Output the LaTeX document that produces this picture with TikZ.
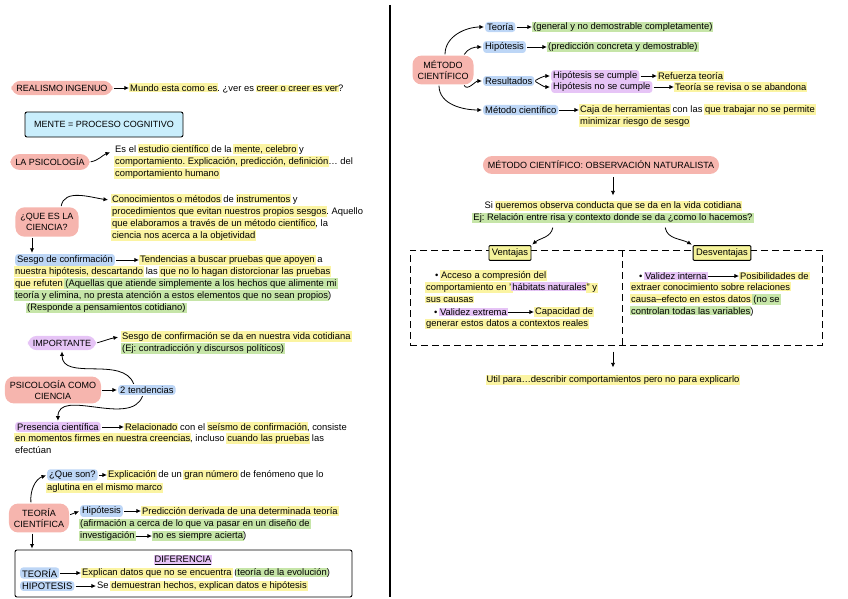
\documentclass[tikz,border=0pt]{standalone}
\usepackage{fontspec}
\setmainfont{Liberation Sans}
\usepackage{xcolor}
\usetikzlibrary{arrows.meta,positioning,calc}
\frenchspacing

\definecolor{blobpink}{HTML}{F6B5AE}
\definecolor{hly}{HTML}{FBF4A2}
\definecolor{hlg}{HTML}{C6E5A8}
\definecolor{hlb}{HTML}{BDD6F6}
\definecolor{hlv}{HTML}{E6C4F6}
\definecolor{mentecyan}{HTML}{C9EEFC}
\definecolor{tagyellow}{HTML}{F4F29A}

% marker highlights
\newcommand{\hlmark}[2]{{\setlength{\fboxsep}{1pt}\kern-1pt\colorbox{#1}{#2}\kern-1pt}}
\newcommand{\hy}[1]{\hlmark{hly}{#1}}
\newcommand{\hg}[1]{\hlmark{hlg}{#1}}
\newcommand{\hv}[1]{\hlmark{hlv}{#1}}

\begin{document}
\begin{tikzpicture}[x=1pt,y=1pt,
  txt/.style={inner sep=0pt,align=left,font=\fontsize{9.4}{12}\selectfont},
  blob/.style={fill=blobpink,rounded corners=9pt,inner xsep=5pt,inner ysep=4pt,align=center,font=\fontsize{9}{11}\selectfont},
  blobv/.style={blob,fill=hlv},
  tag/.style={txt,rounded corners=3pt,inner xsep=2pt,inner ysep=1.5pt},
  tagb/.style={tag,fill=hlb},
  tagv/.style={tag,fill=hlv},
  tagbox/.style={draw,fill=tagyellow,line width=0.9pt,rounded corners=1pt,inner xsep=3pt,inner ysep=3pt,font=\fontsize{9.4}{11}\selectfont},
  frame/.style={draw,line width=0.9pt,rounded corners=2pt},
  dashbox/.style={draw,line width=1pt,dash pattern=on 7pt off 4pt},
  arr/.style={-{Latex[length=1.6mm,width=1.5mm]},line width=0.8pt,shorten >=1pt,shorten <=1pt}
]
\useasboundingbox (0,0) rectangle (848,-599);

% ---------- left column ----------
\node[blob] (realismo) at (62,-88) {REALISMO INGENUO};
\node[txt,anchor=west] (mundo) at (130,-88) {\hy{Mundo esta como es}. ¿ver es \hy{creer o creer es ver}?};
\draw[arr] (realismo) -- (mundo);

\node[frame,fill=mentecyan,minimum width=158pt,minimum height=25pt,font=\fontsize{9}{11}\selectfont] (mente) at (104,-124.5) {MENTE = PROCESO COGNITIVO};

\node[blob] (psico) at (50,-162) {LA PSICOLOGÍA};
\node[txt,anchor=north west] (psicotxt) at (115,-144) {Es el \hy{estudio científico} de la \hy{mente, celebro} y\\
\hy{comportamiento. Explicación, predicción, definición}… del\\
\hy{comportamiento humano}};
\draw[arr] (psico.east) to[out=10,in=200] ([xshift=-4pt,yshift=-8pt]psicotxt.north west);

\node[blob,inner ysep=6pt] (ciencia) at (47,-222) {¿QUE ES LA\\CIENCIA?};
\node[txt,anchor=north west] (cienciatxt) at (112,-194) {\hy{Conocimientos o métodos} de \hy{instrumentos} y\\
\hy{procedimientos que evitan nuestros propios sesgos}. Aquello\\
\hy{que elaboramos a través de un método científico}, la\\
\hy{ciencia nos acerca a la objetividad}};
\draw[arr] ([xshift=14pt]ciencia.north) to[out=80,in=172] ([xshift=-3pt,yshift=-6pt]cienciatxt.north west);

\node[tagb,anchor=west] (sesgo) at (15,-260) {Sesgo de confirmación};
\node[txt,anchor=west] (tend) at (140,-260) {\hy{Tendencias a buscar pruebas que apoyen} a};
\node[txt,anchor=north west] (sesgotxt) at (15,-266) {\hy{nuestra hipótesis, descartando} las \hy{que no lo hagan distorcionar las pruebas}\\
\hy{que refuten} \hg{(Aquellas que atiende simplemente a los hechos que alimente mi}\\
\hg{teoría y elimina, no presta atención a estos elementos que no sean propios})};
\node[txt,anchor=west] (respon) at (27,-308) {\hg{(Responde a pensamientos cotidiano)}};
\draw[arr] ([xshift=-15pt]ciencia.south) -- ([xshift=-15pt]ciencia.south |- sesgo.north);
\draw[arr] (sesgo) -- (tend);

\node[blobv] (importante) at (62,-343) {IMPORTANTE};
\node[txt,anchor=north west] (imptxt) at (122,-331) {\hy{Sesgo de confirmación se da en nuestra vida cotidiana}\\
\hg{(Ej: contradicción y discursos políticos)}};
\draw[arr] (importante.east) to[out=15,in=190] ([xshift=-3pt,yshift=-6pt]imptxt.north west);

\node[blob] (psicc) at (53,-390) {PSICOLOGÍA COMO\\CIENCIA};
\node[tagb,anchor=west] (tend2) at (118,-390) {2 tendencias};
\draw[arr] (psicc) -- (tend2);

\node[tagv,anchor=west] (presencia) at (15,-427) {Presencia científica};
\node[txt,anchor=west] (prestxt) at (125,-427) {\hy{Relacionado} con el \hy{seísmo de confirmación}, consiste};
\node[txt,anchor=north west] (prestxt2) at (15,-433) {\hy{en momentos firmes en nuestra creencias}, incluso \hy{cuando las pruebas} las\\
efectúan};
\draw[arr] (presencia) -- (prestxt);
\draw[arr] ([xshift=16pt]tend2.north west) to[out=110,in=-90] (importante.south);
\draw[arr] ([xshift=-4pt]tend2.south) to[out=-110,in=90] (presencia.north);

\node[blob,inner ysep=5pt] (teoria) at (39,-518) {TEORÍA\\CIENTÍFICA};
\node[tagb,anchor=west] (queson) at (47,-475) {¿Que son?};
\node[txt,anchor=west] (quesontxt) at (108,-475) {\hy{Explicación} de un \hy{gran número} de fenómeno que lo};
\node[txt,anchor=west] (quesontxt2) at (47,-488) {\hy{aglutina en el mismo marco}};
\draw[arr] ([xshift=-8pt]teoria.north) to[out=95,in=200] (queson.west);
\draw[arr] (queson) -- (quesontxt);

\node[tagb,anchor=west] (hipo) at (80,-511) {Hipótesis};
\node[txt,anchor=west] (hipotxt) at (142,-511) {\hy{Predicción derivada de una determinada teoría}};
\node[txt,anchor=west] (hipotxt2) at (80,-524) {\hg{(afirmación a cerca de lo que va pasar en un diseño de}};
\node[txt,anchor=west] (invest) at (80,-536) {\hg{investigación}};
\node[txt,anchor=west] (acierta) at (153,-536) {\hg{no es siempre acierta})};
\draw[arr] ([yshift=3pt]teoria.east) -- (hipo.west);
\draw[arr] (hipo) -- (hipotxt);
\draw[arr] (invest) -- (acierta);

\node[frame,minimum width=337pt,minimum height=47pt] (difbox) at (183.5,-573.5) {};
\draw[arr] ([xshift=-7pt]teoria.south) -- ([xshift=-7pt]teoria.south |- difbox.north);
\node[txt] (diftit) at (183,-560) {\hv{\underline{DIFERENCIA}}};
\node[tagb,anchor=west] (dteoria) at (20,-573) {TEORÍA};
\node[txt,anchor=west] (dteoriatxt) at (82,-573) {\hy{Explican datos que no se encuentra} (\hg{teoría de la evolución})};
\node[tagb,anchor=west] (dhipo) at (20,-586) {HIPOTESIS};
\node[txt,anchor=west] (dhipotxt) at (97,-586) {Se \hy{demuestran hechos, explican datos e hipótesis}};
\draw[arr] (dteoria) -- (dteoriatxt);
\draw[arr] (dhipo) -- (dhipotxt);

% divider
\draw[line width=1.3pt] (390,-5) -- (390,-597);

% ---------- right column ----------
\node[blob,inner ysep=5pt] (metodo) at (443,-70) {MÉTODO\\CIENTÍFICO};
\node[tagb,anchor=west] (mteoria) at (485,-27) {Teoría};
\node[txt,anchor=west] (mteoriatxt) at (533,-27) {\hg{(general y no demostrable completamente)}};
\node[tagb,anchor=west] (mhipo) at (483,-47) {Hipótesis};
\node[txt,anchor=west] (mhipotxt) at (548,-47) {\hg{(predicción concreta y demostrable)}};
\node[tagb,anchor=west] (mres) at (483,-81) {Resultados};
\node[tagv,anchor=west] (cumple) at (551,-76) {Hipótesis se cumple};
\node[txt,anchor=west] (refuerza) at (658,-76) {\hy{Refuerza teoría}};
\node[tagv,anchor=west] (nocumple) at (551,-87) {Hipótesis no se cumple};
\node[txt,anchor=west] (revisa) at (675,-87) {\hy{Teoría se revisa o se abandona}};
\node[tagb,anchor=west] (mmet) at (483,-110) {Método científico};
\node[txt,anchor=north west] (caja) at (580,-104) {\hy{Caja de herramientas} con las \hy{que trabajar no se permite}\\
\hy{minimizar riesgo de sesgo}};
\draw[arr] ([xshift=2pt]metodo.north) to[out=90,in=180] (mteoria.west);
\draw[arr] ([xshift=-10pt]metodo.north east) to[out=60,in=180] (mhipo.west);
\draw[arr] ([xshift=-10pt]metodo.south east) to[out=-60,in=180] (mres.west);
\draw[arr] ([xshift=-4pt]metodo.south) to[out=-90,in=180] (mmet.west);
\draw[arr] (mteoria) -- (mteoriatxt);
\draw[arr] (mhipo) -- (mhipotxt);
\draw[arr] (mres.east) to[out=30,in=180] (cumple.west);
\draw[arr] (mres.east) to[out=-30,in=180] (nocumple.west);
\draw[arr] (cumple) -- (refuerza);
\draw[arr] (nocumple) -- (revisa);
\draw[arr] (mmet.east) -- (mmet.east -| caja.west);

\node[blob,inner ysep=5pt] (obs) at (601,-165) {MÉTODO CIENTÍFICO: OBSERVACIÓN NATURALISTA};
\node[txt,align=center] (siq) at (613,-212) {Si \hy{queremos observa conducta que se da en la vida cotidiana}\\
\hg{Ej: Relación entre risa y contexto donde se da ¿como lo hacemos?}};
\draw[arr] ([yshift=-2pt]siq.north |- obs.south) -- ([yshift=4pt]siq.north);

\node[dashbox,minimum width=412pt,minimum height=95pt] (obsbox) at (616,-297.5) {};
\draw[line width=1pt,dash pattern=on 7pt off 4pt] (622,-250) -- (622,-345);
\node[tagbox] (vent) at (510,-253) {Ventajas};
\node[tagbox] (desv) at (722,-253) {Desventajas};
\draw[arr] ([xshift=-60pt,yshift=-3pt]siq.south) to[out=-100,in=40] (vent.north east);
\draw[arr] ([xshift=52pt,yshift=-3pt]siq.south) to[out=-80,in=150] (desv.north west);

\node[txt,anchor=north west] (venttxt) at (426,-270) {\hspace*{9pt}• \hy{Acceso a compresión del}\\
\hy{comportamiento en "}\hv{hábitats naturales}\hy{" y}\\
\hy{sus causas}};
\node[txt,anchor=west] (vext) at (434,-312) {• \hv{Validez extrema}};
\node[txt,anchor=west] (capac) at (535,-312) {\hy{Capacidad de}};
\node[txt,anchor=west] (capac2) at (426,-324) {\hy{generar estos datos a contextos reales}};
\draw[arr] (vext) -- (capac);

\node[txt,anchor=west] (vint) at (639,-276) {• \hv{Validez interna}};
\node[txt,anchor=west] (posib) at (740,-276) {\hy{Posibilidades de}};
\node[txt,anchor=north west] (desvtxt) at (631,-282) {\hy{extraer conocimiento sobre relaciones}\\
\hy{causa--efecto en estos datos} \hg{(no se}\\
\hg{controlan todas las variables})};
\draw[arr] (vint) -- (posib);

\node[txt] (util) at (613,-380) {\hy{Util para…describir comportamientos pero no para explicarlo}};
\draw[arr] ([yshift=-5pt]obsbox.south -| util.north) -- ([yshift=6pt]util.north);
\end{tikzpicture}
\end{document}
